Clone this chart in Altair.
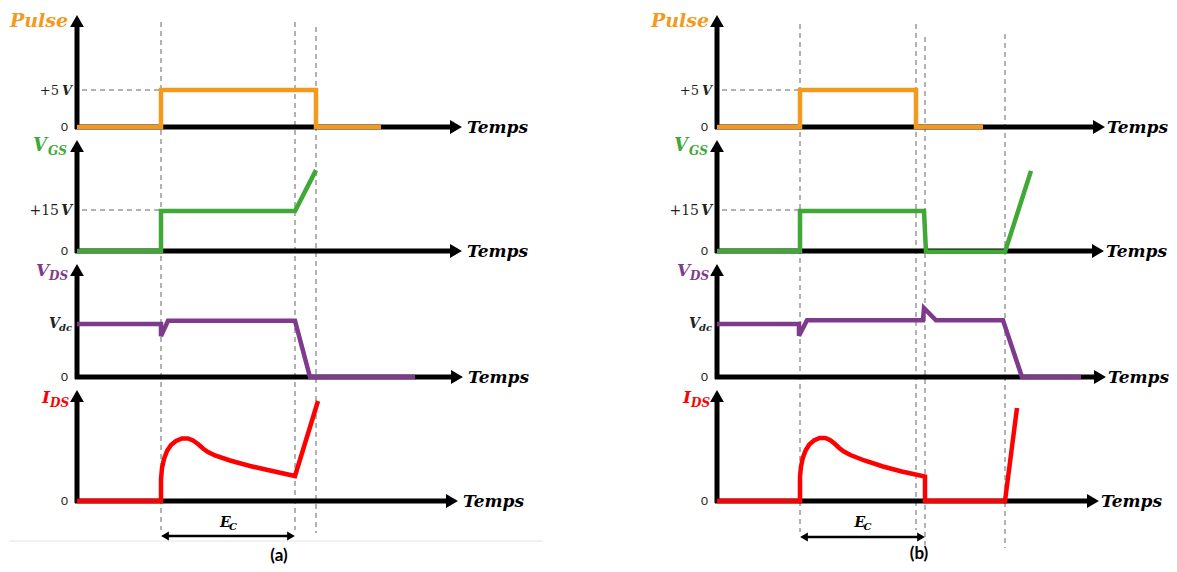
import altair as alt
import pandas as pd

# ---------------- values ----------------
# time in arbitrary units (the drawing is schematic), levels in signal units
ROWS = ["pulse", "vgs", "vds", "ids"]
COLORS = ["#F39A1E", "#40A836", "#7E3B8C", "#FF0000"]

# Panel (a)
a_pulse_t = [0, 8.4, 8.4, 23.9, 23.9, 30.4]
a_pulse_v = [0, 0, 5, 5, 0, 0]                      # volts
a_vgs_t = [0, 8.4, 8.4, 21.8, 23.9]
a_vgs_v = [0, 0, 14.6, 14.6, 29.6]                  # volts
a_vds_t = [0, 8.4, 8.4, 9.1, 21.8, 23.3, 33.8]
a_vds_v = [1.0, 1.0, 0.77, 1.06, 1.06, 0, 0]        # x Vdc
a_ids_t = [0, 8.4, 8.4, 8.5, 8.7, 9.0, 9.4, 9.9, 10.5, 11.1, 11.6, 12.1, 12.6, 13.1,
           13.8, 15.3, 17.3, 19.3, 21.8, 24.1]
a_ids_v = [0, 0, 2.2, 3.3, 4.2, 5.0, 5.6, 6.0, 6.25, 6.25, 6.05, 5.7, 5.25, 4.9,
           4.55, 4.05, 3.5, 3.05, 2.5, 10.0]

# Panel (b)
b_pulse_t = [0, 8.3, 8.3, 19.9, 19.9, 26.6]
b_pulse_v = [0, 0, 5, 5, 0, 0]
b_vgs_t = [0, 8.3, 8.3, 20.7, 20.9, 28.8, 31.4]
b_vgs_v = [0, 0, 14.6, 14.6, -0.3, -0.3, 29.3]
b_vds_t = [0, 8.2, 8.2, 9.0, 20.6, 20.7, 21.9, 28.6, 30.5, 36.4]
b_vds_v = [1.0, 1.0, 0.78, 1.07, 1.07, 1.3, 1.07, 1.07, 0, 0]
b_ids_t = [0, 8.3, 8.3, 8.39, 8.58, 8.86, 9.23, 9.7, 10.26, 10.82, 11.29, 11.75, 12.22,
           12.69, 13.34, 14.74, 16.6, 18.47, 20.8, 20.8, 28.8, 30.0]
b_ids_v = [0, 0, 2.4, 3.4, 4.3, 5.05, 5.65, 6.05, 6.3, 6.3, 6.1, 5.75, 5.3, 4.95,
           4.6, 4.05, 3.45, 2.95, 2.45, 0, 0, 9.3]

# event instants (vertical dashed guides) and E_c interval
a_events = [8.4, 21.8, 23.9]
b_events = [8.3, 19.9, 20.8, 28.8]
a_ec = [8.4, 21.8]
b_ec = [8.3, 20.8]

# reference levels
pulse_level = 5
vgs_level = 15
vds_level = 1.0

# ---------------- layout (drawing units) ----------------
X0 = {"a": 77, "b": 717}
TS = 10.0
BASE = {"pulse": 127, "vgs": 251, "vds": 377, "ids": 501}
VS = {"pulse": 7.4, "vgs": 2.733, "vds": 53.0, "ids": 10.0}
TOP = {"pulse": 15, "vgs": 140, "vds": 264, "ids": 390}
AXIS_END = {"a": {"pulse": 38.5, "vgs": 38.5, "vds": 38.6, "ids": 38.1},
            "b": {"pulse": 38.8, "vgs": 38.7, "vds": 38.9, "ids": 38.2}}
TEMPS_GAP = {"a": 5, "b": 2}
GUIDE_Y = {"a": [(22, 530), (22, 530), (27, 533)],
           "b": [(24, 532), (24, 530), (37, 545), (34, 548)]}
EC_Y = {"a": 536, "b": 537}


def px(panel, t):
    return X0[panel] + t * TS


def py(row, v):
    return BASE[row] - v * VS[row]


series = {
    ("a", "pulse"): (a_pulse_t, a_pulse_v), ("a", "vgs"): (a_vgs_t, a_vgs_v),
    ("a", "vds"): (a_vds_t, a_vds_v), ("a", "ids"): (a_ids_t, a_ids_v),
    ("b", "pulse"): (b_pulse_t, b_pulse_v), ("b", "vgs"): (b_vgs_t, b_vgs_v),
    ("b", "vds"): (b_vds_t, b_vds_v), ("b", "ids"): (b_ids_t, b_ids_v),
}
events = {"a": a_events, "b": b_events}
ecs = {"a": a_ec, "b": b_ec}

wave_rows = []
for (panel, row), (ts, vs) in series.items():
    for i, (t, v) in enumerate(zip(ts, vs)):
        wave_rows.append({"key": panel + row, "row": row, "i": i,
                          "X": px(panel, t), "Y": py(row, v)})
waves = pd.DataFrame(wave_rows)

axis_rows, up_heads, right_heads, guides, refs, ec_rules, ec_l, ec_r = [], [], [], [], [], [], [], []
for panel in ["a", "b"]:
    for row in ROWS:
        tip = px(panel, AXIS_END[panel][row])
        axis_rows.append({"X": X0[panel] - 2, "X2": tip - 8, "Y": BASE[row], "Y2": BASE[row]})
        axis_rows.append({"X": X0[panel], "X2": X0[panel], "Y": BASE[row] + 2, "Y2": TOP[row] + 8})
        up_heads.append({"X": X0[panel], "Y": TOP[row] + 6})
        right_heads.append({"X": tip - 6, "Y": BASE[row]})
    for t, (y1, y2) in zip(events[panel], GUIDE_Y[panel]):
        guides.append({"X": px(panel, t), "X2": px(panel, t), "Y": y1, "Y2": y2})
    t_on = events[panel][0]
    refs.append({"X": X0[panel] + 5, "X2": px(panel, t_on), "Y": py("pulse", pulse_level), "Y2": py("pulse", pulse_level)})
    refs.append({"X": X0[panel] + 5, "X2": px(panel, t_on), "Y": py("vgs", vgs_level), "Y2": py("vgs", vgs_level)})
    e0, e1 = ecs[panel]
    ec_rules.append({"X": px(panel, e0) + 4, "X2": px(panel, e1) - 4, "Y": EC_Y[panel], "Y2": EC_Y[panel]})
    ec_l.append({"X": px(panel, e0) + 4, "Y": EC_Y[panel]})
    ec_r.append({"X": px(panel, e1) - 4, "Y": EC_Y[panel]})

XS = alt.Scale(domain=[8, 1169], nice=False, zero=False)
YS = alt.Scale(domain=[8, 564], nice=False, zero=False, reverse=True)


def enc_pts():
    return dict(x=alt.X("X:Q", scale=XS, axis=None), y=alt.Y("Y:Q", scale=YS, axis=None))


def rule_layer(rows, **mk):
    return alt.Chart(pd.DataFrame(rows)).mark_rule(**mk).encode(
        x=alt.X("X:Q", scale=XS, axis=None), x2="X2:Q",
        y=alt.Y("Y:Q", scale=YS, axis=None), y2="Y2:Q")


def head_layer(rows, shape, size):
    return alt.Chart(pd.DataFrame(rows)).mark_point(
        shape=shape, size=size, filled=True, color="black", opacity=1, strokeWidth=0
    ).encode(**enc_pts())


# ---------------- text ----------------
texts = []


def T(x, y, s, size, color, group):
    texts.append({"X": x, "Y": y, "txt": s, "fs": size, "col": color, "g": group})


for panel in ["a", "b"]:
    x0 = X0[panel]
    dx = 0 if panel == "a" else 1
    # axis names
    T(x0 - 67 + dx, 27, "Pulse", 19, COLORS[0], "bi")
    T(x0 - 44 + dx, 151, "V", 18, COLORS[1], "bi")
    T(x0 - 29 + dx, 155, "GS", 12, COLORS[1], "bi")
    T(x0 - 41 + dx, 276, "V", 17, COLORS[2], "bi")
    T(x0 - 28 + dx, 280, "DS", 12, COLORS[2], "bi")
    T(x0 - 35 + dx, 403, "I", 17, COLORS[3], "bi")
    T(x0 - 27 + dx, 407, "DS", 12, COLORS[3], "bi")
    # level labels
    T(x0 - 18, py("pulse", pulse_level) + 5, "+5", 13, "#222222", "rr")
    T(x0 - 5, py("pulse", pulse_level) + 5, "V", 13, "#222222", "ir")
    T(x0 - 18, py("vgs", vgs_level) + 5, "+15", 14, "#222222", "rr")
    T(x0 - 5, py("vgs", vgs_level) + 5, "V", 14, "#222222", "ir")
    T(x0 - 28, py("vds", vds_level) + 4, "V", 14, "#222222", "bi")
    T(x0 - 18, py("vds", vds_level) + 7, "dc", 10, "#222222", "bi")
    for row in ROWS:
        T(x0 - 9, BASE[row] + 4, "0", 12, "#222222", "sr")
        T(px(panel, AXIS_END[panel][row]) + TEMPS_GAP[panel], BASE[row] + 6, "Temps", 17, "black", "bi")
    e0, e1 = ecs[panel]
    mid = (px(panel, e0) + px(panel, e1)) / 2
    T(mid - 8, 527, "E", 14, "black", "bi")
    T(mid + 1, 530, "C", 10, "black", "bi")

T(279, 561, "(a)", 17, "black", "cap")
T(919, 559, "(b)", 17, "black", "cap")
tdf = pd.DataFrame(texts)

STYLES = {
    "bi": dict(font="DejaVu Serif", fontStyle="italic", fontWeight="bold", align="left"),
    "rr": dict(font="DejaVu Serif", fontStyle="normal", fontWeight="normal", align="right"),
    "ir": dict(font="DejaVu Serif", fontStyle="italic", fontWeight="bold", align="right"),
    "sr": dict(font="Lato", fontStyle="normal", fontWeight="normal", align="right"),
    "cap": dict(font="Lato", fontStyle="normal", fontWeight="bold", align="center"),
}

text_layers = []
for g, st in STYLES.items():
    sub = tdf[tdf["g"] == g]
    text_layers.append(
        alt.Chart(sub).mark_text(baseline="alphabetic", **st).encode(
            x=alt.X("X:Q", scale=XS, axis=None), y=alt.Y("Y:Q", scale=YS, axis=None),
            text="txt:N", color=alt.Color("col:N", scale=None),
            size=alt.Size("fs:Q", scale=None)))

separator = rule_layer([{"X": 9, "X2": 543, "Y": 541, "Y2": 541}], color="#ececec", strokeWidth=1.5)
guide_l = rule_layer(guides, color="#666666", strokeWidth=1, strokeDash=[5, 4])
ref_l = rule_layer(refs, color="#666666", strokeWidth=1, strokeDash=[5, 4])
axes_l = rule_layer(axis_rows, color="black", strokeWidth=5)
ec_l_rule = rule_layer(ec_rules, color="black", strokeWidth=2.5)

wave_l = alt.Chart(waves).mark_line(strokeWidth=4.5, strokeJoin="miter", strokeCap="butt").encode(
    x=alt.X("X:Q", scale=XS, axis=None), y=alt.Y("Y:Q", scale=YS, axis=None),
    detail="key:N", order="i:Q",
    color=alt.Color("row:N", scale=alt.Scale(domain=ROWS, range=COLORS), legend=None))

chart = alt.layer(
    separator, guide_l, ref_l, axes_l,
    head_layer(up_heads, "triangle-up", 190),
    head_layer(right_heads, "triangle-right", 190),
    wave_l, ec_l_rule,
    head_layer(ec_l, "triangle-left", 80),
    head_layer(ec_r, "triangle-right", 80),
    *text_layers
).properties(
    width=1161, height=556, autosize=alt.AutoSizeParams(type="none"), padding=0
).configure_view(stroke=None)

chart.save("out.html", embed_options={"renderer": "svg", "actions": False})
